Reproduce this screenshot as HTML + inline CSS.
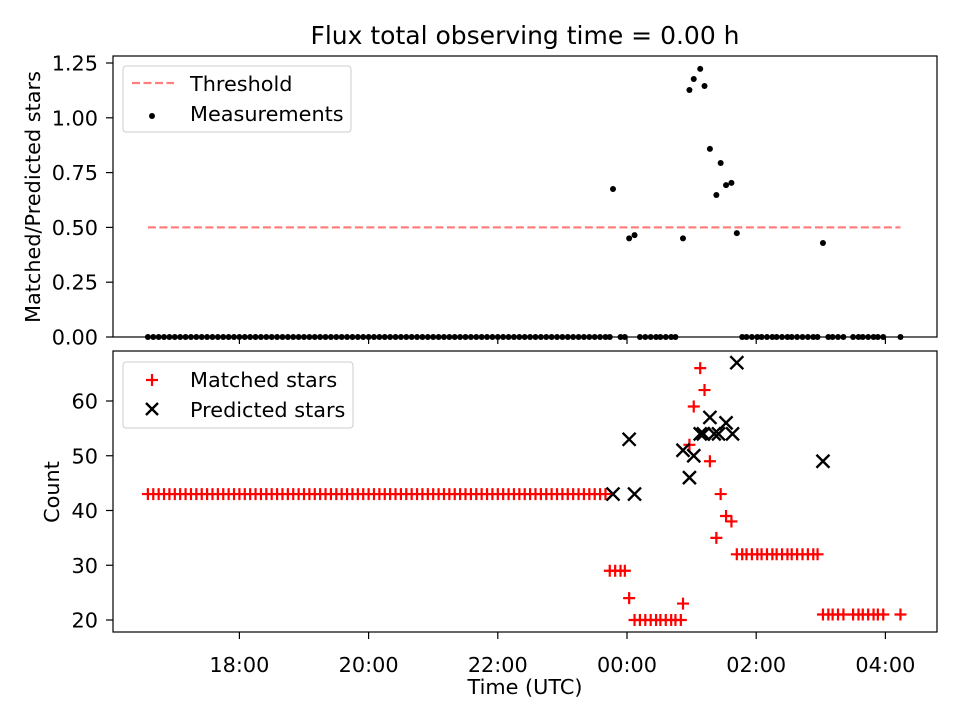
<!DOCTYPE html>
<html><head><meta charset="utf-8"><style>
body{margin:0;background:#fff}
svg{display:block;font-family:"DejaVu Sans","Liberation Sans",sans-serif}
</style></head><body>
<svg id="c" width="960" height="720" viewBox="0 0 960 720">
<rect width="960" height="720" fill="#fff"/>
</svg>
<script>
// times in minutes relative to 00:00 UTC
const matchedTimes = [-445,-440,-435,-430,-425,-420,-415,-410,-405,-400,-395,-390,-385,-380,-375,-370,-365,-360,-355,-350,-345,-340,-335,-330,-325,-320,-315,-310,-305,-300,-295,-290,-285,-280,-275,-270,-265,-260,-255,-250,-245,-240,-235,-230,-225,-220,-215,-210,-205,-200,-195,-190,-185,-180,-175,-170,-165,-160,-155,-150,-145,-140,-135,-130,-125,-120,-115,-110,-105,-100,-95,-90,-85,-80,-75,-70,-65,-60,-55,-50,-45,-40,-35,-30,-25,-20,
-16,-11,-6,-2,2,7,12,17,22,27,31,36,41,45,50,52,58,62,68,72,77,83,87,92,97,
102,107,111,116,121,125,130,135,139,144,149,153,158,163,168,173,177,
182,187,191,196,201,210,215,219,224,229,233,238,254];
const matchedCounts = [43,43,43,43,43,43,43,43,43,43,43,43,43,43,43,43,43,43,43,43,43,43,43,43,43,43,43,43,43,43,43,43,43,43,43,43,43,43,43,43,43,43,43,43,43,43,43,43,43,43,43,43,43,43,43,43,43,43,43,43,43,43,43,43,43,43,43,43,43,43,43,43,43,43,43,43,43,43,43,43,43,43,43,43,43,43,
29,29,29,29,24,20,20,20,20,20,20,20,20,20,20,23,52,59,66,62,49,35,43,39,38,
32,32,32,32,32,32,32,32,32,32,32,32,32,32,32,32,32,
21,21,21,21,21,21,21,21,21,21,21,21,21];
const predTimes = [-13,2,7,52,58,62,68,71,77,81,85,92,98,102,182];
const predCounts = [43,53,43,51,46,50,54,54,57,54,54,56,54,67,49];
const ratioTimes = [-13,2,7,52,58,62,68,72,77,83,87,92,97,102,182];
const ratioValues = [0.675,0.45,0.465,0.45,1.127,1.177,1.223,1.145,0.858,0.648,0.794,0.693,0.703,0.474,0.429];
const xTickLabels = ["18:00","20:00","22:00","00:00","02:00","04:00"];
const xTickMins = [-360,-240,-120,0,120,240];
const topTicks = [0,0.25,0.5,0.75,1.0,1.25];
const botTicks = [20,30,40,50,60];
const threshold = 0.5;

const svg = document.getElementById('c');
const NS = 'http://www.w3.org/2000/svg';
function el(tag, attrs, parent){const e=document.createElementNS(NS,tag);for(const k in attrs)e.setAttribute(k,attrs[k]);(parent||svg).appendChild(e);return e;}
const X = m => 627 + m/60*64.6;
const YT = r => 337 - r*219.2;
const YB = c => 620 - (c-20)*5.475;
const L=113,R=937;
const FS='20.8';
const PS=6, XS=6.5;

let t=el('text',{x:525,y:44,'font-size':'25','text-anchor':'middle',fill:'#000'});t.textContent='Flux total observing time = 0.00 h';



function axes(name){
  const g=el('g',{});
  
  
  return g;
}
// TOP PANEL
const gT=axes('top-panel');
el('line',{x1:X(-445),x2:X(254),y1:YT(threshold),y2:YT(threshold),stroke:'#ff0000','stroke-opacity':0.5,'stroke-width':2.2,'stroke-dasharray':'8,3.5'},gT);
ratioTimes.forEach((m,i)=>{const c=el('circle',{cx:X(m),cy:YT(ratioValues[i]),r:3,fill:'#000'},gT);
  
  });
matchedTimes.forEach(m=>{ if(ratioTimes.some(r=>Math.abs(r-m)<3))return;
  const c=el('circle',{cx:X(m),cy:YT(0),r:3,fill:'#000'},gT);
  
  });
el('rect',{x:L,y:56,width:R-L,height:281,fill:'none',stroke:'#000','stroke-width':1.2},gT);
topTicks.forEach(v=>{const y=YT(v);el('line',{x1:L-7,x2:L,y1:y,y2:y,stroke:'#000','stroke-width':1.2},gT);
  const tt=el('text',{x:L-15,y:y+7.5,'font-size':FS,'text-anchor':'end'},gT);tt.textContent=v.toFixed(2);
  });
xTickMins.forEach(m=>el('line',{x1:X(m),x2:X(m),y1:337,y2:344,stroke:'#000','stroke-width':1.2},gT));
let yl=el('text',{'font-size':FS,'text-anchor':'middle',transform:'translate(40,197) rotate(-90)'},gT);yl.textContent='Matched/Predicted stars';

const lg=el('g',{},gT);


el('rect',{x:123,y:66,width:228,height:66,rx:3,fill:'#fff','fill-opacity':0.8,stroke:'#ccc'},lg);
el('line',{x1:132,x2:174,y1:83,y2:83,stroke:'#ff0000','stroke-opacity':0.5,'stroke-width':2.2,'stroke-dasharray':'8,3.5'},lg);
let lt=el('text',{x:190,y:91,'font-size':FS},lg);lt.textContent='Threshold';
el('circle',{cx:152,cy:116,r:3,fill:'#000'},lg);
lt=el('text',{x:190,y:121,'font-size':FS},lg);lt.textContent='Measurements';

// BOTTOM PANEL
const gB=axes('bottom-panel');
matchedTimes.forEach((m,i)=>{const x=X(m),y=YB(matchedCounts[i]);
  const p=el('path',{d:`M${x-PS},${y}H${x+PS}M${x},${y-PS}V${y+PS}`,stroke:'#ff0000','stroke-width':2.2},gB);
  
  });
predTimes.forEach((m,i)=>{const x=X(m),y=YB(predCounts[i]);
  const p=el('path',{d:`M${x-XS},${y-XS}L${x+XS},${y+XS}M${x-XS},${y+XS}L${x+XS},${y-XS}`,stroke:'#000','stroke-width':2.4},gB);
  
  });
el('rect',{x:L,y:351,width:R-L,height:281,fill:'none',stroke:'#000','stroke-width':1.2},gB);
botTicks.forEach(v=>{const y=YB(v);el('line',{x1:L-7,x2:L,y1:y,y2:y,stroke:'#000','stroke-width':1.2},gB);
  const tt=el('text',{x:L-15,y:y+7.5,'font-size':FS,'text-anchor':'end'},gB);tt.textContent=v;
  });
xTickMins.forEach((m,i)=>{el('line',{x1:X(m),x2:X(m),y1:632,y2:639,stroke:'#000','stroke-width':1.2},gB);
  const tt=el('text',{x:X(m),y:672,'font-size':FS,'text-anchor':'middle'},gB);tt.textContent=xTickLabels[i];
  });
yl=el('text',{'font-size':FS,'text-anchor':'middle',transform:'translate(59,492) rotate(-90)'},gB);yl.textContent='Count';

let xl=el('text',{x:525,y:694,'font-size':FS,'text-anchor':'middle'},gB);xl.textContent='Time (UTC)';

const lb=el('g',{},gB);


el('rect',{x:123,y:362,width:230,height:66,rx:3,fill:'#fff','fill-opacity':0.8,stroke:'#ccc'},lb);
el('path',{d:'M146,380H158M152,374V386',stroke:'#ff0000','stroke-width':2.2},lb);
lt=el('text',{x:190,y:387,'font-size':FS},lb);lt.textContent='Matched stars';
el('path',{d:'M146,403L158,415M146,415L158,403',stroke:'#000','stroke-width':2.4},lb);
lt=el('text',{x:190,y:417,'font-size':FS},lb);lt.textContent='Predicted stars';
</script>
</body></html>
